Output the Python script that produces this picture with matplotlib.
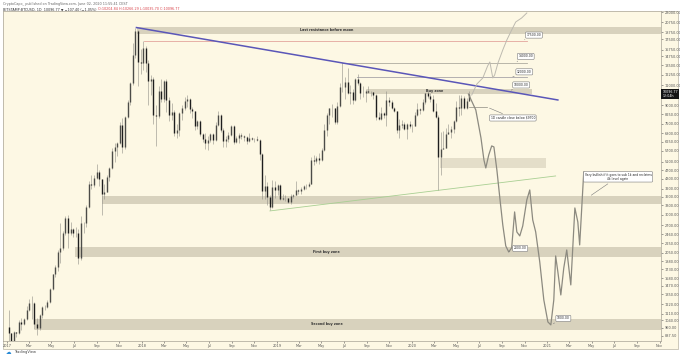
import numpy as np
import pandas as pd
import matplotlib
matplotlib.use("Agg")
import matplotlib.pyplot as plt
from matplotlib.patches import Rectangle
from matplotlib.ticker import NullLocator

# weekly BTCUSD candles (Bitstamp), weeks starting on Monday
week_start = "2017-01-02"
first_open = 965
closes = [908, 820, 920, 915, 1015, 995, 1050, 1150, 1235, 1230, 1000, 960, 1090, 1180, 1180, 1250,
          1420, 1650, 1770, 2070, 2150, 2500, 2900, 2500, 2600, 2500, 2500, 1950, 2750, 2750, 3250,
          4100, 4050, 4350, 4600, 4300, 3700, 3780, 4400, 4800, 5700, 5950, 6150, 7400, 5900, 8000,
          9300, 11300, 15000, 19000, 14000, 13800,
          16100, 13800, 11500, 11800, 8200, 8100, 10400, 9600, 11500, 9550, 8200, 8450, 6800, 7000,
          8350, 8800, 9400, 9650, 8700, 8500, 7350, 7700, 6770, 6450, 6150, 6380, 6750, 6350, 7400,
          8200, 7000, 6300, 6400, 6700, 7300, 6250, 6500, 6700, 6600, 6550, 6300, 6500, 6450, 6400,
          6350, 5550, 3800, 4000, 3600, 3250, 3950, 3850,
          4050, 3500, 3530, 3530, 3410, 3620, 3670, 3830, 3800, 3900, 4000, 3990, 4100, 5200, 5150,
          5300, 5200, 5750, 7000, 8200, 8750, 8750, 7650, 8950, 10850, 10800, 11450, 10200, 10350,
          9550, 11800, 11300, 10200, 10150, 10400, 10300, 10300, 10000, 8050, 7850, 8300, 8200, 9550,
          9300, 8800, 8500, 7050, 7400, 7500, 7100, 7500, 7300, 7350,
          8180, 8700, 8600, 9350, 10150, 9900, 9650, 8530, 8050, 5350, 5830, 5880, 6770, 6900, 7120,
          7700, 8900, 8750, 9670, 8750, 9450, 10097]
highs = [1150, 910, 930, 925, 1040, 1065, 1060, 1200, 1290, 1330, 1250, 1060, 1100, 1200, 1210, 1270,
         1440, 1660, 1800, 2100, 2750, 2550, 2950, 3000, 2800, 2630, 2650, 2600, 2950, 2800, 3300,
         4200, 4480, 4450, 4980, 4700, 4300, 4100, 4450, 4850, 5850, 6150, 6200, 7600, 7900, 8100,
         9500, 11400, 16800, 19700, 19200, 15800,
         17200, 16300, 14200, 12200, 11950, 9000, 10900, 11700, 11600, 11700, 9800, 9200, 8600, 7500,
         8450, 9000, 9750, 9950, 9700, 8900, 8500, 7750, 7780, 6850, 6800, 6650, 6850, 6800, 7600,
         8500, 8250, 7150, 6600, 6900, 7400, 7400, 6600, 6800, 6800, 6700, 6650, 6800, 6550, 6500,
         6600, 6400, 5600, 4450, 4150, 3650, 4250, 4200,
         4100, 4100, 3700, 3650, 3550, 3700, 3700, 4200, 3900, 3950, 4050, 4100, 4150, 5350, 5450,
         5400, 5600, 5850, 7500, 8350, 8800, 9100, 8800, 9300, 11300, 13800, 12000, 13100, 11000,
         10600, 11900, 12300, 11400, 10950, 10600, 10900, 10450, 10350, 10100, 8450, 8850, 8400, 10400,
         9800, 9500, 8850, 8550, 7850, 7750, 7650, 7550, 7700, 7500,
         8450, 9200, 8800, 9600, 10200, 10500, 10200, 9950, 9200, 8200, 6900, 6950, 7200, 7450, 7300,
         7750, 9450, 10000, 9950, 9850, 9700, 10450]
lows = [810, 750, 810, 880, 905, 940, 990, 1040, 1140, 1050, 950, 890, 940, 1060, 1150, 1170,
        1240, 1410, 1600, 1700, 1850, 2100, 2450, 2150, 2450, 2400, 2400, 1830, 1900, 2500, 2650,
        3200, 3900, 3950, 4300, 4000, 2980, 3500, 3750, 4200, 4750, 5100, 5400, 6100, 5600, 5800,
        7900, 9000, 11000, 14500, 10900, 12400,
        12800, 12600, 9000, 10000, 7500, 6000, 7900, 9300, 9300, 8400, 7700, 7800, 6600, 6500,
        6600, 7800, 8600, 8900, 8300, 7900, 7050, 7100, 6600, 6200, 5800, 5750, 6250, 6100, 6300,
        7350, 6900, 5900, 5900, 6250, 6650, 6100, 6150, 6150, 6400, 6300, 6100, 6250, 6350, 6250,
        6300, 5200, 3500, 3500, 3300, 3150, 3200, 3550,
        3650, 3480, 3470, 3450, 3380, 3350, 3560, 3650, 3700, 3700, 3850, 3900, 3950, 4100, 4950,
        5050, 5000, 5150, 5700, 6600, 7500, 8000, 7450, 7500, 8900, 10300, 9600, 10100, 9100,
        9100, 9400, 11000, 9600, 9800, 9350, 10150, 9900, 9650, 7750, 7750, 7800, 7900, 7300,
        8950, 8700, 8400, 6800, 6500, 7150, 7050, 6450, 7150, 6900,
        7350, 8100, 8250, 8550, 9100, 9700, 9300, 8450, 7950, 3850, 4450, 5800, 5850, 6750, 6500,
        6800, 7650, 8100, 8200, 8700, 8650, 9400]

# author's projected paths
bear_dates = ["2020-06-02", "2020-06-22", "2020-07-06", "2020-07-14", "2020-07-19", "2020-07-27",
              "2020-08-04", "2020-08-10", "2020-08-18", "2020-08-26", "2020-09-03", "2020-09-11",
              "2020-09-19", "2020-09-27", "2020-10-05", "2020-10-11", "2020-10-19", "2020-10-27",
              "2020-11-07", "2020-11-15", "2020-11-23", "2020-12-01", "2020-12-12", "2020-12-23",
              "2021-01-03", "2021-01-11", "2021-01-19", "2021-01-24", "2021-01-30", "2021-02-07",
              "2021-02-15", "2021-02-23", "2021-03-06", "2021-03-17", "2021-03-25", "2021-03-30",
              "2021-04-10"]
bear_prices = [10097, 8600, 6490, 5200, 4800, 5470, 5990, 5930, 4705, 3550, 2706, 2191, 2063, 2147,
               3084, 2522, 2423, 2679, 3480, 3847, 2846, 2522, 1865, 1273, 1020, 990, 1273, 1981,
               1687, 1338, 1756, 2104, 1480, 3210, 2788, 2213, 4610]
bull_dates = ["2020-06-11", "2020-06-25", "2020-07-11", "2020-07-24", "2020-07-30", "2020-08-07",
              "2020-08-12", "2020-08-21", "2020-09-03", "2020-09-14", "2020-09-27", "2020-10-08",
              "2020-10-24", "2020-11-07"]
bull_prices = [10000, 11170, 11865, 13390, 13940, 11865, 12230, 13800, 15730, 17390, 19220, 20840,
               21690, 22810]

# zones: (label, low, high, start)
zones = [("Last resistance before moon", 18460, 19820, "2017-12-18"),
         ("", 3350, 3620, "2017-09-15"),
         ("First buy zone", 1965, 2170, "2017-07-04"),
         ("Second buy zone", 940, 1052, "2017-03-18")]
buy_zone = (10100, 10620, "2019-09-03", "2020-11-20")
mid_zone = (4800, 5310, "2020-03-17", "2020-12-28")
levels = [(17200, "2018-01-06", "2020-11-07", "#e3a59d"),
          (13800, "2019-06-27", "2020-11-07", "#aeab9f"),
          (12000, "2019-08-06", "2020-11-07", "#a7a4a8")]
trend_down = (["2017-12-17", "2021-01-30"], [19700, 9510])
trend_up = (["2018-12-13", "2021-01-24"], [3115, 4428])

yticks = [23000, 20750, 18750, 17500, 15750, 14750, 13500, 12250, 11000, 9000, 8250, 7500, 6800,
          6250, 5700, 5100, 4700, 4300, 3900, 3600, 3300, 3000, 2700, 2460, 2250, 2050, 1880, 1730,
          1580, 1470, 1350, 1220, 1110, 1040, 960, 887.5]

cream = "#fdf8e4"
fig = plt.figure(figsize=(6.8, 3.57), dpi=100, facecolor="white")
fig.patches.append(Rectangle((0.004, 0.022), 0.993, 0.947, transform=fig.transFigure,
                             facecolor=cream, edgecolor="#b9b4a4", lw=0.5, zorder=-5))
ax = fig.add_axes([3 / 680, 16 / 357, 658 / 680, 330 / 357])
ax.set_facecolor(cream)
ax.set_yscale("log")
ax.set_xlim(pd.Timestamp("2016-12-21"), pd.Timestamp("2021-11-05"))
ax.set_ylim(842, 23270)
right_end = pd.Timestamp("2021-11-05")

band = "#d8d2bd"
for label, lo, hi, start in zones:
    ax.fill_between([pd.Timestamp(start), right_end], lo, hi, color=band, lw=0, zorder=1)
    if label:
        ax.text(pd.Timestamp("2019-05-15"), np.sqrt(lo * hi), label, fontsize=2.4,
                fontweight="bold", color="#333", ha="center", va="center", zorder=2)
lo, hi, s, e = buy_zone
ax.fill_between([pd.Timestamp(s), pd.Timestamp(e)], lo, hi, color=band, lw=0, zorder=1)
ax.text(pd.Timestamp("2020-03-03"), np.sqrt(lo * hi), "Buy zone", fontsize=2.4,
        fontweight="bold", color="#333", ha="center", va="center", zorder=2)
lo, hi, s, e = mid_zone
ax.fill_between([pd.Timestamp(s), pd.Timestamp(e)], lo, hi, color="#e4dec9", lw=0, zorder=1)

for price, s, e, col in levels:
    ax.plot([pd.Timestamp(s), pd.Timestamp(e)], [price, price], color=col, lw=0.6, zorder=2)

ax.plot(pd.to_datetime(trend_up[0]), trend_up[1], color="#a9cf93", lw=0.6, zorder=2)

# candles
dates = pd.date_range(week_start, periods=len(closes), freq="7D") + pd.Timedelta(days=3)
c = np.array(closes, float)
o = np.concatenate([[first_open], c[:-1]])
up = c >= o
ax.vlines(dates, lows, highs, color="#8f8d86", lw=0.4, zorder=3)
ax.vlines(dates[up], np.minimum(o, c)[up], np.maximum(o, c)[up], color="#4c4c48", lw=1.0, zorder=4)
ax.vlines(dates[~up], np.minimum(o, c)[~up], np.maximum(o, c)[~up], color="#1e1e1e", lw=1.0, zorder=4)

ax.plot(pd.to_datetime(trend_down[0]), trend_down[1], color="#5a56b8", lw=1.1, zorder=5)

ax.plot(pd.to_datetime(bull_dates), bull_prices, color="#bdbab0", lw=0.7, zorder=5)
ax.plot(pd.to_datetime(bear_dates), bear_prices, color="#8c8a80", lw=0.9, zorder=5)

ax.plot([pd.Timestamp("2020-06-04"), pd.Timestamp("2020-07-22")], [8860, 8860],
        color="#8c8a80", lw=0.5, zorder=5)

box = dict(boxstyle="round,pad=0.35", fc="white", ec="#7a7a7a", lw=0.4)
arrow = dict(arrowstyle="-", color="#7a7a7a", lw=0.4)
notes = [("17500.00", "2020-10-25", 17200, (8.6, 4.3)),
         ("14000.00", "2020-10-05", 13800, (8.0, 4.7)),
         ("12000.00", "2020-09-30", 12000, (8.3, 3.6)),
         ("10000.00", "2020-09-19", 10360, (9.0, 4.7)),
         ("2000.00", "2020-09-19", 2063, (8.3, 2.5)),
         ("1000.00", "2021-01-11", 990, (9.0, 4.7)),
         ("1D candle close below $9700", "2020-07-22", 8860, (18.7, -7.9)),
         ("Very bullish if it goes to sub 1k and reclaims\n4k level again", "2021-04-24", 3590,
          (21.0, 14.4))]
for txt, d, p, off in notes:
    ax.annotate(txt, xy=(pd.Timestamp(d), p), xytext=off, textcoords="offset points",
                fontsize=2.2, ha="center", va="center", color="#222", bbox=box,
                arrowprops=arrow, zorder=7, linespacing=1.1)

# axes
ax.yaxis.tick_right()
ax.set_yticks(yticks)
ax.set_yticklabels([f"{v:.2f}" for v in yticks])
ax.yaxis.set_minor_locator(NullLocator())
xt, xl = [], []
for yr in range(2017, 2022):
    for m, name in [(1, str(yr)), (3, "Mar"), (5, "May"), (7, "Jul"), (9, "Sep"), (11, "Nov")]:
        xt.append(pd.Timestamp(yr, m, 1))
        xl.append(name)
ax.set_xticks(xt)
ax.set_xticklabels(xl)
ax.xaxis.set_minor_locator(NullLocator())
ax.tick_params(axis="both", labelsize=2.5, length=1.5, width=0.4, colors="#555", pad=1)
for sp in ax.spines.values():
    sp.set_color("#a8a396")
    sp.set_linewidth(0.5)

ax.text(1.002, 10096.77, "10096.77\n12:04h", transform=ax.get_yaxis_transform(), fontsize=2.3,
        color="white", ha="left", va="center", linespacing=1.2,
        bbox=dict(boxstyle="square,pad=0.3", fc="#131313", ec="none"), zorder=8, clip_on=False)

fig.text(0.005, 0.993, "CryptoCapo_ published on TradingView.com, June 02, 2020 11:55:41 CEST",
         fontsize=2.4, color="#666", va="top")
t = fig.text(0.005, 0.979, "BITSTAMP:BTCUSD, 1D  10096.77 \u25bc \u2212107.40 (\u22121.05%) ",
             fontsize=2.4, color="#333", va="top")
fig.canvas.draw()
bb = t.get_window_extent().transformed(fig.transFigure.inverted())
fig.text(bb.x1, 0.979, "O:10204.84 H:10266.29 L:10035.70 C:10096.77", fontsize=2.4,
         color="#d9434a", va="top")
fig.text(0.008, 0.006, "\u2601", fontsize=4, color="#2a8bd6", va="bottom")
fig.text(0.021, 0.008, "TradingView", fontsize=2.6, color="#444", va="bottom")

fig.savefig("out.png", dpi=100, facecolor="white")
